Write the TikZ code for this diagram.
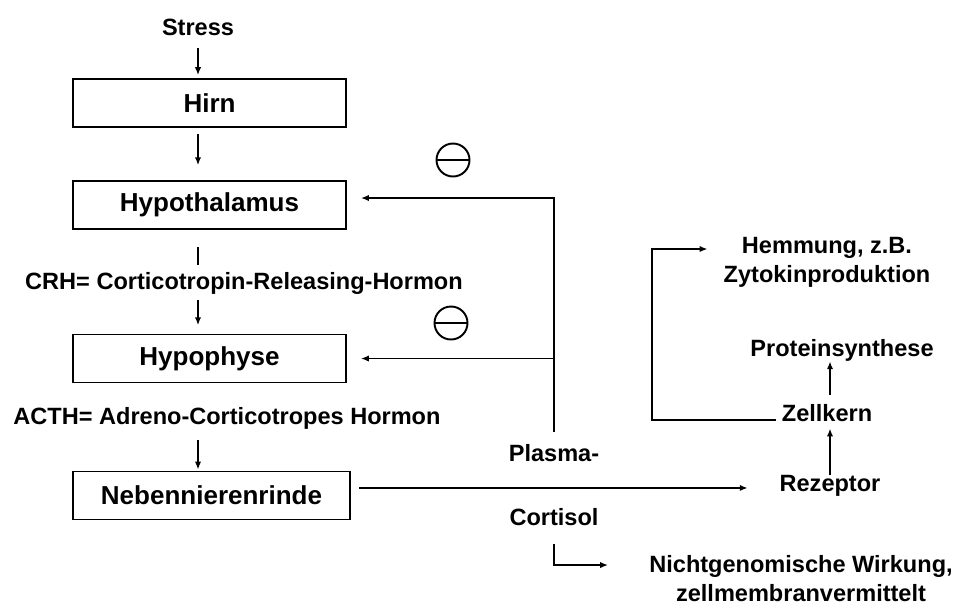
\documentclass[tikz,border=0pt]{standalone}
\usepackage{fontspec}
\setmainfont{Liberation Sans}
\usetikzlibrary{arrows.meta}

\begin{document}
\begin{tikzpicture}[x = 0.02cm, y = -0.02cm,
        organ/.style = {draw, line width = 1pt, minimum width = 5.46cm, minimum height = 0.96cm, inner sep = 0pt, font = \fontsize{14.8}{18}\selectfont\bfseries},
        txt/.style = {inner sep = 0pt, align = center, font = \fontsize{13.4}{16.5}\selectfont\bfseries},
        wire/.style = {line width = 0.9pt},
        arr/.style = {wire, -{Latex[length = 4.5pt, width = 3.6pt]}},
        negsign/.style = {circle, draw, line width = 1.1pt, minimum size = 0.66cm, inner sep = 0pt,
            path picture = {\draw[line width = 1.1pt] (path picture bounding box.west) -- (path picture bounding box.east);}}]
    \useasboundingbox (0, 0) rectangle (955, 610);

    \node[txt] (stress) at (198, 27) {Stress};
    \node[organ] (hirn) at (209.5, 103) {Hirn};
    \node[organ] (hypoth) at (209.5, 205) {Hypothalamus};
    \node[txt] (crh) at (244, 283) {CRH= Corticotropin-Releasing-Hormon};
    \node[organ] (hypoph) at (209.5, 358.5) {Hypophyse};
    \node[txt] (acth) at (227, 418) {ACTH= Adreno-Corticotropes Hormon};
    \node[organ, minimum width = 5.54cm] (nnr) at (211.5, 495.5) {Nebennierenrinde};
    \node[txt] (plasma) at (554, 453) {Plasma-};
    \node[txt] (cortisol) at (554, 517) {Cortisol};
    \node[txt] (rezeptor) at (830, 486) {Rezeptor};
    \node[txt] (zellkern) at (827, 413) {Zellkern};
    \node[txt] (protein) at (842, 350) {Proteinsynthese};
    \node[txt] (hemmung) at (827, 262) {Hemmung, z.B.\\Zytokinproduktion};
    \node[txt] (nicht) at (801, 579) {Nichtgenomische Wirkung,\\zellmembranvermittelt};
    \node[negsign] (neg1) at (453, 160) {};
    \node[negsign] (neg2) at (451, 323) {};

    \coordinate (fb) at (554, 198);
    \coordinate (nc) at (554, 565);
    \coordinate (hk) at (652, 249);
    \coordinate (nnrout) at ([yshift = 4.3pt]nnr.east);
    \coordinate (zkout) at ([yshift = -4pt]zellkern.west);

    \draw[arr, shorten <= 7.1pt, shorten >= 1.7pt] (stress.south) -- (stress.south |- hirn.north);
    \draw[arr, shorten <= 3.4pt, shorten >= 8.5pt] (hirn.south -| stress) -- (hypoth.north -| stress);
    \draw[wire, shorten <= 9.7pt, shorten >= 4pt] (hypoth.south -| stress) -- (crh.north -| stress);
    \draw[arr, shorten <= 3.4pt, shorten >= 4.8pt] (crh.south -| stress) -- (hypoph.north -| stress);
    \draw[arr, shorten <= 6.3pt, shorten >= 0.6pt] (acth.south -| stress) -- (nnr.north -| stress);

    \draw[arr, shorten <= 4.5pt, shorten >= 18pt] (nnrout) -- (nnrout -| rezeptor.west);
    \draw[arr, shorten <= 7pt, shorten >= 8pt] (plasma.north) -- (fb) -- (fb -| hypoth.east);
    \draw[arr, shorten >= 8pt] (hypoph.east -| fb) -- (hypoph.east);
    \draw[arr, shorten <= 10pt, shorten >= 23.3pt] (cortisol.south) -- (nc) -- (nc -| nicht.west);

    \draw[arr, shorten >= 3.7pt] (rezeptor.north) -- (rezeptor.north |- zellkern.south);
    \draw[arr, shorten <= 5.4pt] (rezeptor.north |- zellkern.north) -- (rezeptor.north |- protein.south);
    \draw[arr, shorten <= 3.4pt, shorten >= 9pt] (zkout) -| (hk) -- (hk -| hemmung.west);
\end{tikzpicture}
\end{document}
